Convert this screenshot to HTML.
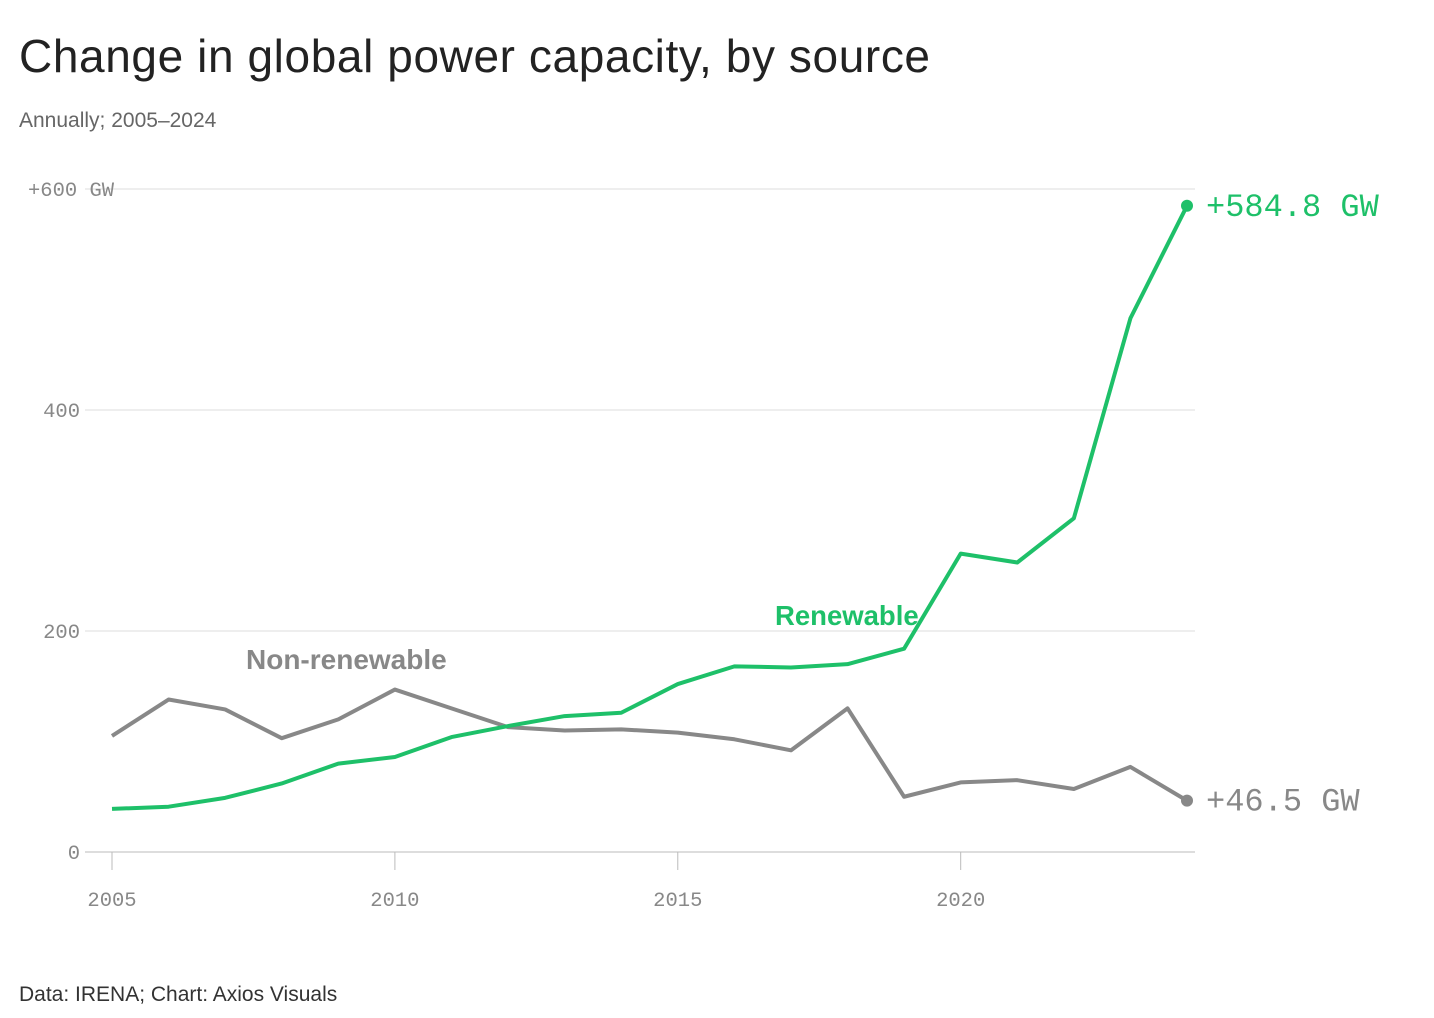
<!DOCTYPE html>
<html><head><meta charset="utf-8"><style>
body{margin:0;background:#fff;width:1434px;height:1018px;overflow:hidden;font-family:"Liberation Sans",sans-serif}
svg{position:absolute;left:0;top:0}
</style></head><body>
<svg width="1434" height="1018">
<text x="19" y="72" font-size="46" fill="#222" textLength="911">Change in global power capacity, by source</text>
<text x="19" y="127" font-size="21" fill="#666">Annually; 2005–2024</text>
<text x="19" y="1001" font-size="21" fill="#333">Data: IRENA; Chart: Axios Visuals</text>
<g id="grid"></g><g id="lines"></g>
</svg>
<script>
const years=[2005,2006,2007,2008,2009,2010,2011,2012,2013,2014,2015,2016,2017,2018,2019,2020,2021,2022,2023,2024];
const renewable=[39,41,49,62,80,86,104,114,123,126,152,168,167,170,184,270,262,302,483,584.8];
const nonRenewable=[105,138,129,103,120,147,130,113,110,111,108,102,92,130,50,63,65,57,77,46.5];
const yTicks=[0,200,400,600];
const yTickLabels=["0","200","400","+600 GW"];
const xTicks=[2005,2010,2015,2020];
const NS="http://www.w3.org/2000/svg";
const x=v=>112+(v-2005)*(1187-112)/19;
const y=v=>852-v*(852-189)/600;
const g=document.getElementById('grid'),L=document.getElementById('lines');
function mk(tag,attrs,parent,txt){const e=document.createElementNS(NS,tag);for(const k in attrs)e.setAttribute(k,attrs[k]);if(txt!==undefined)e.textContent=txt;parent.appendChild(e);return e;}
yTicks.forEach((t,i)=>{
 const ln=mk('line',{x1:85,x2:1195,y1:y(t),y2:y(t),stroke:t===0?'#bbb':'#ddd','stroke-width':1},g);
 
 
 const tx=mk('text',{x:80,y:y(t)+7,'font-size':20.5,fill:'#888','text-anchor':'end','font-family':'Liberation Mono, monospace'},g,yTickLabels[i]);
 if(t===600){tx.setAttribute('x',28);tx.setAttribute('text-anchor','start');}
 
 
});
xTicks.forEach(t=>{
 const tk=mk('line',{x1:x(t),x2:x(t),y1:852,y2:870,stroke:'#bbb'},g);
 
 
 const tx=mk('text',{x:x(t),y:906,'font-size':20.5,fill:'#888','text-anchor':'middle','font-family':'Liberation Mono, monospace'},g,String(t));
 
 
});
function series(vals,color,name,endLabel){
 const p=mk('polyline',{points:vals.map((v,i)=>x(years[i])+','+y(v)).join(' '),fill:'none',stroke:color,'stroke-width':4,'stroke-linejoin':'round'},L);
 
 
 const last=vals[vals.length-1];
 const c=mk('circle',{cx:x(years[years.length-1]),cy:y(last),r:6,fill:color},L);
 
 
 const t=mk('text',{x:1206,y:y(last)+10,'font-size':32,fill:color,'font-family':'Liberation Mono, monospace'},L,endLabel(last));
 
 
}
series(nonRenewable,'#888','non-renewable',v=>'+'+v+' GW');
series(renewable,'#1ec069','renewable',v=>'+'+v+' GW');
const a=mk('text',{x:246,y:669,'font-size':28,'font-weight':'bold',fill:'#888'},L,'Non-renewable');


const b=mk('text',{x:775,y:625,'font-size':27.5,'font-weight':'bold',fill:'#1ec069'},L,'Renewable');


</script>
</body></html>
